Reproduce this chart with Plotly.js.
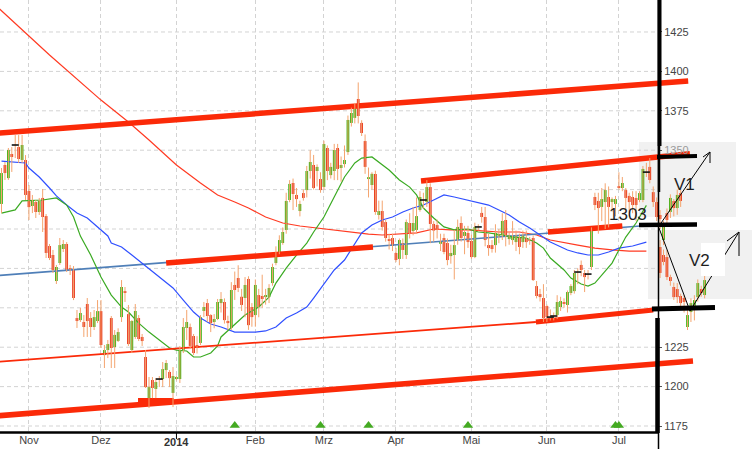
<!DOCTYPE html>
<html><head><meta charset="utf-8">
<script src="https://cdn.plot.ly/plotly-3.0.1.min.js"></script>
<style>html,body{margin:0;padding:0;background:#fff;}#chart{width:752px;height:449px;}</style>
</head><body><div id="chart"></div>
<script>
// ---------- DATA ----------
// Daily OHLC, one value per trading day starting 2013-10-22
const open = [
1315.9,1340.6,1332.3,1347.6,1353.3,1352.0,1343.8,1343.8,1324.1,1314.6,
1317.1,1310.8,1319.7,1308.2,1289.2,1283.5,1267.0,1278.4,1287.3,1290.5,
1275.2,1274.6,1243.5,1242.2,1241.0,1252.4,1243.5,1237.8,1241.6,1247.9,
1220.0,1223.2,1243.5,1225.1,1229.0,1244.1,1260.6,1246.0,1223.2,1231.5,
1243.5,1231.5,1218.8,1192.1,1204.2,1198.5,1204.8,1204.8,1210.5,1209.3,
1196.0,1204.8,1204.8,1223.2,1237.2,1237.8,1232.1,1226.4,1227.7,1248.0,
1253.0,1245.4,1241.0,1242.9,1253.0,1253.7,1241.6,1237.2,1264.5,1268.9,
1257.0,1256.2,1268.3,1250.5,1245.4,1258.1,1257.5,1256.8,1256.8,1265.7,
1278.4,1284.8,1291.1,1299.4,1318.4,1329.2,1321.6,1311.4,1322.8,1324.7,
1336.8,1340.6,1336.8,1331.7,1326.7,1351.4,1334.2,1336.8,1351.4,1338.7,
1341.2,1348.8,1367.3,1370.5,1382.5,1367.3,1355.8,1331.7,1327.9,1334.9,
1308.9,1311.4,1304.4,1293.6,1294.3,1284.8,1281.0,1291.1,1283.5,1303.8,
1298.7,1299.4,1312.1,1318.4,1317.1,1326.6,1303.2,1302.5,1290.6,1294.3,
1291.1,1282.8,1283.5,1293.0,1303.8,1295.6,1297.5,1292.4,1282.2,1301.3,
1310.2,1307.6,1289.8,1289.8,1289.8,1295.6,1296.2,1305.7,1293.6,1293.0,
1291.7,1295.0,1291.7,1294.3,1293.0,1294.3,1263.8,1258.7,1256.2,1251.1,
1244.1,1244.8,1245.4,1250.5,1253.7,1251.8,1259.4,1260.6,1272.7,1277.2,
1272.1,1271.4,1275.9,1320.3,1317.8,1314.0,1317.1,1320.3,1317.1,1315.9,
1327.2,1326.0,1324.7,1321.0,1320.3,1319.7,1318.4,1318.4,1336.1,1339.4,
1323.4,1317.1];
const high = [
1338.7,1342.5,1351.4,1352.0,1359.6,1359.6,1359.6,1346.9,1327.9,1321.6,
1318.4,1319.7,1325.4,1309.5,1290.5,1286.7,1277.2,1294.3,1293.0,1291.7,
1277.2,1276.5,1248.6,1249.9,1245.4,1256.2,1247.3,1248.6,1254.9,1254.9,
1226.4,1229.6,1244.8,1235.9,1237.0,1267.6,1263.2,1251.8,1242.2,1252.4,
1245.4,1233.4,1223.2,1206.1,1206.1,1205.4,1206.7,1215.6,1216.9,1210.5,
1212.4,1207.0,1225.8,1243.5,1248.6,1240.0,1233.4,1232.0,1245.4,1253.7,
1255.6,1246.0,1246.0,1255.6,1260.0,1256.0,1245.0,1266.3,1273.0,1277.0,
1262.0,1269.5,1270.0,1253.0,1268.0,1262.0,1271.0,1262.0,1265.0,1278.0,
1289.0,1296.0,1301.0,1323.0,1331.0,1332.0,1326.0,1318.0,1325.0,1340.0,
1350.0,1347.0,1341.0,1336.0,1356.0,1353.0,1342.0,1354.0,1354.0,1346.0,
1353.0,1372.0,1377.0,1380.0,1393.0,1369.0,1360.0,1339.0,1336.0,1337.0,
1318.0,1318.0,1306.0,1297.0,1297.0,1288.0,1294.0,1294.0,1306.0,1310.0,
1314.0,1320.0,1324.0,1323.0,1331.0,1329.0,1305.0,1306.0,1297.0,1297.0,
1294.0,1290.0,1299.4,1306.0,1308.0,1302.0,1302.0,1296.4,1304.0,1303.0,
1314.0,1314.0,1297.0,1293.0,1303.0,1300.0,1310.0,1312.0,1298.0,1305.0,
1299.0,1297.0,1299.0,1299.0,1295.0,1296.0,1267.0,1262.0,1265.0,1252.0,
1249.0,1247.0,1258.0,1257.0,1256.0,1261.0,1265.0,1274.0,1275.0,1280.0,
1274.0,1274.0,1301.0,1323.0,1323.0,1326.0,1329.0,1327.0,1320.0,1321.0,
1336.0,1333.0,1326.0,1323.0,1324.0,1324.0,1324.0,1340.0,1342.0,1345.0,
1327.0,1320.0];
const low = [
1310.1,1331.1,1331.1,1336.2,1345.0,1341.9,1341.9,1318.4,1305.7,1310.1,
1307.0,1308.9,1298.1,1281.6,1280.3,1272.1,1265.1,1277.2,1285.4,1272.7,
1270.8,1254.9,1237.2,1241.0,1231.5,1231.5,1231.5,1235.9,1240.3,1224.5,
1211.8,1218.1,1211.8,1211.8,1228.3,1241.0,1253.7,1225.8,1221.3,1230.3,
1228.9,1225.8,1199.1,1186.4,1192.7,1192.7,1199.7,1199.7,1205.4,1199.7,
1187.0,1204.0,1202.3,1221.3,1229.6,1224.0,1220.0,1221.0,1226.4,1244.1,
1241.0,1234.6,1237.0,1242.2,1247.0,1240.0,1236.0,1236.0,1255.0,1260.0,
1248.0,1244.0,1236.0,1238.0,1238.0,1244.0,1250.0,1252.0,1253.0,1264.0,
1277.0,1284.0,1290.0,1297.0,1317.0,1312.0,1314.0,1308.0,1318.0,1320.0,
1332.0,1325.0,1327.0,1323.0,1325.0,1331.0,1332.0,1331.0,1331.0,1330.0,
1339.0,1347.0,1365.0,1367.0,1367.0,1359.0,1335.0,1320.0,1325.0,1309.0,
1306.0,1299.0,1292.0,1287.0,1286.0,1279.0,1277.0,1281.0,1281.0,1294.0,
1296.0,1297.0,1311.0,1313.0,1314.0,1291.0,1292.0,1294.0,1286.0,1284.0,
1277.0,1278.0,1268.0,1290.0,1292.0,1284.0,1288.0,1281.0,1281.5,1299.0,
1304.0,1289.0,1283.0,1285.0,1285.0,1291.0,1293.0,1289.0,1290.0,1290.0,
1286.0,1284.0,1288.0,1288.0,1290.0,1267.0,1256.0,1254.0,1241.0,1241.0,
1242.0,1242.0,1243.0,1248.0,1250.0,1247.0,1258.0,1259.0,1265.0,1270.0,
1260.0,1268.0,1274.0,1312.0,1297.0,1305.0,1300.0,1301.0,1311.0,1308.0,
1325.0,1324.0,1312.0,1311.0,1310.0,1305.0,1317.0,1317.0,1333.0,1329.0,
1314.0,1305.0];
const close = [
1335.5,1335.5,1350.1,1345.7,1353.3,1344.4,1353.3,1321.6,1313.9,1318.4,
1310.8,1317.8,1307.6,1284.8,1281.6,1274.0,1275.9,1289.8,1290.5,1274.0,
1274.0,1256.2,1241.6,1246.7,1237.8,1241.6,1237.8,1244.1,1247.9,1226.4,
1223.2,1227.0,1224.5,1232.8,1234.6,1263.2,1259.4,1227.0,1241.6,1248.0,
1230.2,1228.9,1199.7,1199.7,1199.1,1202.9,1204.8,1211.1,1215.0,1205.4,
1206.7,1206.1,1223.2,1237.8,1241.0,1225.8,1221.3,1224.5,1244.1,1250.5,
1244.8,1240.3,1242.9,1253.7,1255.6,1242.2,1240.3,1261.3,1261.3,1262.6,
1251.8,1264.5,1239.0,1244.1,1264.5,1250.5,1255.6,1258.1,1262.6,1275.9,
1285.4,1293.0,1298.1,1317.8,1328.6,1322.2,1319.0,1315.9,1319.7,1336.8,
1342.5,1326.0,1339.4,1324.7,1353.9,1336.8,1339.4,1350.1,1338.1,1340.6,
1343.8,1369.2,1373.6,1376.8,1371.7,1360.9,1339.4,1332.9,1335.0,1310.8,
1311.4,1301.3,1294.3,1292.4,1289.2,1280.3,1293.0,1286.7,1304.4,1297.5,
1303.8,1308.2,1320.3,1318.4,1326.6,1303.2,1299.0,1299.6,1292.4,1285.4,
1280.3,1284.8,1289.8,1301.3,1294.3,1298.1,1291.7,1282.2,1301.3,1301.3,
1307.6,1293.0,1287.9,1287.3,1297.5,1296.8,1305.1,1296.2,1296.2,1295.6,
1296.2,1288.6,1296.2,1291.7,1292.4,1267.6,1257.5,1256.8,1243.5,1244.1,
1244.1,1244.8,1253.7,1254.3,1252.4,1260.0,1263.8,1272.1,1272.7,1274.0,
1269.5,1271.4,1298.7,1315.2,1313.3,1319.0,1324.7,1314.0,1319.0,1319.0,
1326.0,1329.2,1319.7,1317.1,1315.2,1315.2,1322.8,1338.1,1336.1,1331.1,
1317.1,1307.6];

// Pasted scenario candles (V1 box and V2 box), trading-day indices
const v1Days  = [192,193,194,195,196,197,198];
const v1Open  = [1308.9,1293.0,1310.1,1310.8,1317.8,1313.3,1322.8];
const v1High  = [1312.0,1305.0,1313.0,1322.0,1319.0,1325.0,1325.0];
const v1Low   = [1300.0,1289.8,1302.0,1307.0,1308.0,1309.0,1314.0];
const v1Close = [1306.3,1302.5,1305.7,1319.7,1313.3,1321.6,1317.8];
const v2Days  = [192,193,194,195,196,197,198,199,200,201,202,203,204,205];
const v2Open  = [1288.6,1283.5,1282.2,1269.5,1263.2,1261.9,1257.5,1256.2,1237.8,1247.3,1250.5,1256.8,1261.9,1258.1];
const v2High  = [1293.0,1287.0,1286.7,1271.0,1266.0,1265.7,1259.0,1258.0,1248.6,1256.0,1258.0,1268.0,1264.0,1270.8];
const v2Low   = [1268.9,1277.0,1267.6,1264.0,1255.0,1253.0,1249.0,1247.0,1235.9,1241.0,1242.0,1254.0,1257.0,1256.0];
const v2Close = [1272.1,1279.1,1269.5,1267.0,1256.8,1256.8,1253.0,1253.7,1245.4,1253.0,1254.9,1265.7,1259.4,1267.6];

// Moving averages (trading-day index, value)
const greenDays = [0,4,6,12,16,19,21,23,26,29,32,35,37,40,43,46,49,51,54,56,58,61,63,64,68,71,75,78,80,83,86,89,91,94,97,100,103,105,108,110,113,116,119,121,123,126,129,132,136,139,142,146,149,153,156,158,160,164,166,169,171,173,175,178,180,182,185,187,188];
const greenVals = [1310.1,1312.1,1317.8,1318.4,1319.7,1315.2,1307.6,1295.5,1283.5,1269.5,1258.1,1250.5,1247.3,1240.3,1234.6,1229.6,1224.5,1223.2,1222.6,1218.8,1218.8,1221.3,1225.8,1231.5,1239.1,1245.4,1250.5,1256.8,1265.7,1275.2,1283.5,1291.1,1298.1,1307.6,1320.3,1333.0,1341.9,1345.0,1345.7,1342.5,1337.4,1331.1,1326.6,1321.6,1313.3,1307.0,1301.3,1299.4,1300.0,1298.1,1297.5,1296.2,1294.9,1294.3,1291.1,1287.9,1281.6,1274.0,1268.9,1265.1,1263.8,1265.7,1270.8,1278.4,1286.7,1294.9,1303.8,1311.4,1315.0];
const blueDays = [0,7,8,11,14,16,19,22,25,28,31,32,35,38,41,44,47,50,53,56,58,61,64,68,74,77,80,83,86,89,91,94,97,100,103,105,108,111,114,117,120,123,126,128,129,132,136,139,142,145,148,151,154,157,160,165,168,171,174,177,180,184,188];
const blueVals = [1343.1,1341.9,1338.7,1333.0,1326.0,1321.0,1315.2,1310.1,1307.0,1301.3,1295.6,1291.1,1288.6,1283.5,1278.4,1272.7,1267.6,1262.6,1254.9,1247.3,1243.5,1239.7,1237.8,1234.6,1234.6,1235.3,1237.8,1243.5,1246.7,1250.5,1256.2,1265.1,1274.0,1280.3,1291.1,1297.5,1302.5,1305.7,1307.6,1310.8,1313.3,1315.2,1318.4,1320.3,1321.6,1320.3,1318.4,1317.1,1315.2,1312.1,1308.9,1304.4,1300.6,1296.2,1291.7,1286.7,1284.8,1283.5,1283.5,1285.4,1287.9,1289.2,1291.7];
const redDays = [-1,14,29,37,43,51,58,63,68,72,77,82,87,92,97,102,107,111,116,121,126,131,136,140,145,151,156,160,163,168,173,178,183,188];
const redVals = [1440.5,1410.4,1381.8,1367.9,1356.5,1340.6,1329.2,1321.6,1317.1,1313.3,1307.6,1303.8,1301.9,1300.6,1299.4,1298.1,1296.8,1296.2,1296.8,1297.5,1300.0,1299.4,1299.4,1298.7,1298.1,1298.1,1296.2,1293.0,1291.7,1289.8,1287.9,1286.7,1286.0,1286.0];

// Trend / channel lines (endpoints: trading-day index, value)
const trendDays = [-1,186.2],  trendVals = [1270.5,1301.9];
const upperDays = [-1,200.2],  upperVals = [1360.8,1393.9];
const midUpDays = [122.3,200.7], midUpVals = [1330.4,1347.8];
const midLoADays = [48,108.3], midLoAVals = [1278.4,1288.6];
const midLoBDays = [159.3,181], midLoBVals = [1298.1,1301.9];
const lowThinDays = [-1,155.8], lowThinVals = [1215.8,1241.0];
const lowThickDays = [155.8,190], lowThickVals = [1241.0,1248.6];
const bottomDays = [-1,201.6], bottomVals = [1181.5,1216.2];
const decBoxDays = [39.8,50.2], decBoxVals = [1191.2,1191.2];

// Signal markers
const signalDays = [68,93,107,136,179,180];
const signalLevel = 1175.4;

// Axis ticks
const monthTicks = ['2013-11-01','2013-12-02','2014-01-01','2014-02-03','2014-03-03','2014-04-01','2014-05-01','2014-06-02','2014-07-01'];
const monthLabels = ['Nov','Dez','','Feb','Mrz','Apr','Mai','Jun','Jul'];
const gridLevels = [1175,1200,1225,1250,1275,1300,1325,1350,1375,1400,1425];
const labelLevels = [1175,1200,1225,1350,1375,1400,1425];
const labelTexts = ['1175','1200','1225','<span style="color:#9a9a9a">1350</span>','1375','1400','1425'];

// ---------- helpers ----------
const ALL = (function(){const out=[];let t=Date.UTC(2013,9,15);while(out.length<280){const w=new Date(t).getUTCDay();if(w>0&&w<6)out.push(t);t+=86400000;}return out;})();
function fmt(t){return new Date(t).toISOString().replace('T',' ').slice(0,19);}
function dateAt(i){const f=Math.floor(i);return fmt(ALL[f+5]+(i-f)*86400000);}
const GREEN='#3cb414', RED='#e8341c', WICK='#f4a46e';
const BARW = 0.8*86400000;

function candles(days,o,h,l,c){
  const wx=[],wy=[],bx=[],by=[],bb=[],bc=[],dx=[],dy=[];
  for(let i=0;i<o.length;i++){
    const d=dateAt(days[i]);
    wx.push(d,d,null); wy.push(h[i],l[i],null);
    if(o[i]===c[i]){dx.push(d);dy.push(o[i]);}
    else{bx.push(d);by.push(Math.abs(c[i]-o[i]));bb.push(Math.min(o[i],c[i]));bc.push(c[i]>o[i]?GREEN:RED);}
  }
  return [
    {type:'scatter',mode:'lines',x:wx,y:wy,line:{color:WICK,width:1},hoverinfo:'skip'},
    {type:'bar',x:bx,y:by,base:bb,width:BARW,marker:{color:bc,line:{width:0}},hoverinfo:'skip'},
    {type:'scatter',mode:'markers',x:dx,y:dy,marker:{symbol:'line-ew',size:5,line:{color:'#111',width:1.6}},hoverinfo:'skip'}
  ];
}
function line(days,vals,color,width){
  return {type:'scatter',mode:'lines',x:days.map(dateAt),y:vals,line:{color:color,width:width},hoverinfo:'skip'};
}
const mainDays = open.map((_,i)=>i);
const CH='#fb2a08';

const traces = [
  line(redDays,redVals,'#ff3a22',1.2),
  line(trendDays,trendVals,'#4f7fb8',1.6),
  line(blueDays,blueVals,'#3050ff',1.2),
  line(greenDays,greenVals,'#3aaa22',1.2),
  line(lowThinDays,lowThinVals,CH,1.8),
  line(upperDays,upperVals,CH,5.5),
  line(midUpDays,midUpVals,CH,5.5),
  line(midLoADays,midLoAVals,CH,5.5),
  line(midLoBDays,midLoBVals,CH,5.5),
  line(lowThickDays,lowThickVals,CH,5),
  line(bottomDays,bottomVals,CH,5.5),
  line(decBoxDays,decBoxVals,CH,5),
  ...candles(mainDays,open,high,low,close),
  ...candles(v1Days,v1Open,v1High,v1Low,v1Close),
  ...candles(v2Days,v2Open,v2High,v2Low,v2Close),
  {type:'scatter',mode:'markers',x:signalDays.map(dateAt),y:signalDays.map(()=>signalLevel),
   marker:{symbol:'triangle-up',size:9,color:'#44aa22'},hoverinfo:'skip'}
];

// ---------- layout ----------
const W=752,H=432;
const px=x=>x/W, py=y=>1-y/H;
function seg(x0,y0,x1,y1,w,color){return {type:'line',xref:'paper',yref:'paper',x0:px(x0),y0:py(y0),x1:px(x1),y1:py(y1),line:{color:color||'#000',width:w},layer:'above'};}
function box(x0,y0,x1,y1,fill,layer){return {type:'rect',xref:'paper',yref:'paper',x0:px(x0),y0:py(y0),x1:px(x1),y1:py(y1),fillcolor:fill,line:{width:0},layer:layer};}

const shapes = [
  box(639,142,736,217,'#f1f1f1','below'),
  box(648,230,752,299,'#f1f1f1','below'),
  ...gridLevels.map(v=>({type:'line',xref:'paper',yref:'y',x0:0,x1:0.875,y0:v,y1:v,line:{color:'#d3d3d3',width:1,dash:'4px,3px'},layer:'below'})),
  seg(0,432.5,658,432.5,2.5),
  {type:'line',xref:'x',yref:'paper',x0:'2014-01-01',x1:'2014-01-01',y0:py(432),y1:py(439),line:{color:'#000',width:1}},
  seg(658.5,0,658.5,449,1.5),
  seg(659.5,0,659.5,146,4),
  seg(659,146,659,192,2.5),
  seg(657.5,318,657.5,433,4.5),
  seg(657,157,697,156,4),
  seg(639,225,697,224.5,4.5),
  seg(652,309,715,307.5,5),
  seg(659,226,710,152,1),
  seg(703,157,710,152,1),
  seg(710,152,710,163,1),
  seg(659,228,690,311,1),
  seg(690,311,739,232,1),
  seg(727,241,739,232,1),
  seg(739,232,739,256,1),
  box(701,243,725,276,'#ffffff','above')
];

const annotations = [
  {xref:'x',x:'2014-01-01',yref:'paper',y:py(449.5),yanchor:'bottom',text:'<b>2014</b>',showarrow:false,font:{size:11,color:'#333'}},
  {xref:'paper',x:px(649),yref:'paper',y:py(215),text:'1303',showarrow:false,font:{size:17,color:'#1e1e1e'}},
  {xref:'paper',x:px(697),yref:'paper',y:py(184),text:'V1',showarrow:false,font:{size:17,color:'#1e1e1e'}},
  {xref:'paper',x:px(712),yref:'paper',y:py(260),text:'V2',showarrow:false,font:{size:17,color:'#1e1e1e'}}
];

const layout = {
  width:752,height:449,
  margin:{l:0,r:0,t:0,b:17,pad:0},
  paper_bgcolor:'#ffffff',plot_bgcolor:'rgba(0,0,0,0)',
  showlegend:false,barmode:'overlay',hovermode:false,
  font:{family:'Liberation Sans, Arial, sans-serif',size:11,color:'#333'},
  xaxis:{type:'date',range:[dateAt(-0.44),dateAt(218.8)],rangebreaks:[{bounds:['sat','mon']}],
    tickmode:'array',tickvals:monthTicks,ticktext:monthLabels,ticks:'',showgrid:true,gridcolor:'#d3d3d3',
    griddash:'4px,3px',gridwidth:1,showline:false,zeroline:false,automargin:false,fixedrange:true,
    tickfont:{size:11,color:'#444'}},
  yaxis:{range:[1171.2,1445.3],anchor:'free',position:0.875,side:'right',tickmode:'array',tickvals:labelLevels,
    ticktext:labelTexts,showgrid:false,ticks:'outside',ticklen:3,tickcolor:'#555',showline:false,zeroline:false,
    automargin:false,fixedrange:true,tickfont:{size:11,color:'#444'}},
  shapes:shapes,annotations:annotations
};
Plotly.newPlot('chart',traces,layout,{displayModeBar:false,staticPlot:true});
</script></body></html>
